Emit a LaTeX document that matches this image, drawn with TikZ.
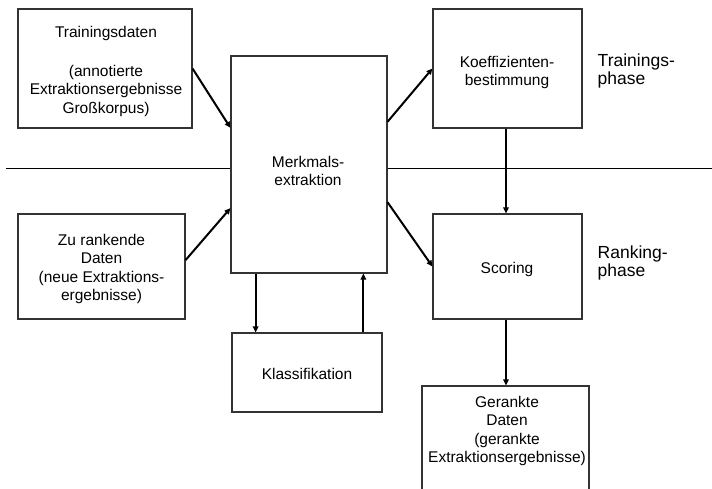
\documentclass[tikz,border=0pt]{standalone}
\usepackage{fontspec}
\setmainfont{Liberation Sans}
\usetikzlibrary{arrows.meta,calc}
\begin{document}
\begin{tikzpicture}[x=1pt,y=-1pt,
  box/.style={draw=black!80,line width=1.1pt,fill=white,rectangle,inner sep=0pt},
  txt/.style={font=\fontsize{15.5}{18.5}\selectfont,align=center,inner sep=0pt,anchor=north},
  phaselbl/.style={font=\fontsize{17.5}{18.8}\selectfont,align=left,inner sep=0pt,anchor=north west},
  conn/.style={line width=2pt,-{Triangle[length=6pt,width=5.5pt]}},
  divider/.style={line width=0.9pt}]
\useasboundingbox (0,0) rectangle (712,488);
\clip (0,0) rectangle (712,488);

% boundary between training and ranking phase
\coordinate (divL) at (6,168);
\coordinate (divR) at (712,168);
\draw[divider] (divL) -- (divR);

% boxes
\node[box,minimum width=174pt,minimum height=119pt] (td) at (105,68.5) {};
\node[box,minimum width=156pt,minimum height=217pt] (mx) at (309,164.5) {};
\node[box,minimum width=149pt,minimum height=119pt] (ko) at (507.5,68.5) {};
\node[box,minimum width=167pt,minimum height=105pt] (zr) at (101.5,266.5) {};
\node[box,minimum width=149pt,minimum height=105pt] (sc) at (507.5,266.5) {};
\node[box,minimum width=150pt,minimum height=79pt] (kl) at (307,372.5) {};
\node[box,minimum width=167pt,minimum height=134pt] (gd) at (505.5,453) {};

% box texts
\node[txt] (tdT) at (106,25.9) {Trainingsdaten\\[20.5pt](annotierte\\Extraktionsergebnisse\\Großkorpus)};
\node[txt] (mxT) at (308,155.9) {Merkmals-\\extraktion};
\node[txt] (koT) at (507,55.9) {Koeffizienten-\\bestimmung};
\node[txt] (zrT) at (101.5,233.9) {Zu rankende\\Daten\\(neue Extraktions-\\ergebnisse)};
\node[txt] (scT) at (507,261.9) {Scoring};
\node[txt] (klT) at (307,367.9) {Klassifikation};
\node[txt] (gdT) at (507,395.9) {Gerankte\\Daten\\(gerankte\\Extraktionsergebnisse)};

% phase labels
\node[phaselbl] (phT) at (597.5,53.2) {Trainings-\\phase};
\node[phaselbl] (phR) at (597.5,245.2) {Ranking-\\phase};

% connector end points on the box borders
\coordinate (mxIn1) at ($(mx.north west)!0.332!(mx.south west)$);
\coordinate (mxIn2) at ($(mx.north west)!0.70!(mx.south west)$);
\coordinate (zrOut) at ($(zr.north east)!0.44!(zr.south east)$);
\coordinate (mxOut1) at ($(mx.north east)!0.304!(mx.south east)$);
\coordinate (mxOut2) at ($(mx.north east)!0.673!(mx.south east)$);
\coordinate (mxDown) at ($(mx.south west)!0.16!(mx.south east)$);
\coordinate (klUp) at ($(kl.north west)!0.873!(kl.north east)$);
\coordinate (koDown) at ($(ko.south west)!0.49!(ko.south east)$);
\coordinate (scDown) at ($(sc.south west)!0.49!(sc.south east)$);

% connectors
\draw[conn] (td.east) -- (mxIn1);
\draw[conn] (zrOut) -- (mxIn2);
\draw[conn] (mxOut1) -- (ko.west);
\draw[conn] (mxOut2) -- (sc.west);
\draw[conn] (koDown) -- (koDown |- sc.north);
\draw[conn] (mxDown) -- (mxDown |- kl.north);
\draw[conn] (klUp) -- (klUp |- mx.south);
\draw[conn] (scDown) -- (scDown |- gd.north);
\end{tikzpicture}
\end{document}
